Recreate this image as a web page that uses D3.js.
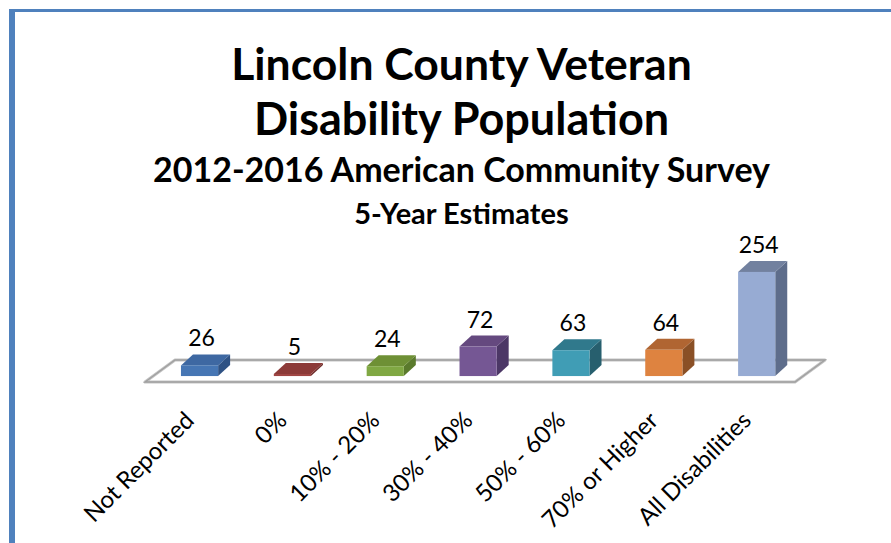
<!DOCTYPE html>
<html>
<head>
<meta charset="utf-8">
<script src="https://cdn.jsdelivr.net/npm/d3@7/dist/d3.min.js"></script>
<style>
  html, body { margin: 0; padding: 0; background: #ffffff; }
  svg { display: block; font-family: Lato, "Open Sans", sans-serif; }
</style>
</head>
<body>
<svg id="chart" width="891" height="543"></svg>
<script>
// Veteran disability counts by service-connected rating
const categories = ["Not Reported", "0%", "10% - 20%", "30% - 40%", "50% - 60%", "70% or Higher", "All Disabilities"];
const values = [26, 5, 24, 72, 63, 64, 254];
const frontColors = ["#4676B4", "#A04543", "#80A843", "#755794", "#409DB5", "#DE8340", "#97ABD3"];
const topColors   = ["#3E68A2", "#8C3A38", "#6E9035", "#65497F", "#30798C", "#B06532", "#72819F"];
const sideColors  = ["#2F5284", "#6E2B29", "#5A7A2C", "#4C3766", "#275F6E", "#8A5026", "#5E6D8B"];
const titleLines = ["Lincoln County Veteran", "Disability Population"];
const subtitle = "2012-2016 American Community Survey";
const subsubtitle = "5-Year Estimates";

const svg = d3.select("#chart");

// frame edge
svg.append("rect").attr("x", 9).attr("y", 9).attr("width", 6).attr("height", 534).attr("fill", "#4F81BD");
svg.append("rect").attr("x", 9).attr("y", 9).attr("width", 882).attr("height", 3).attr("fill", "#4F81BD");

// titles
const cx = 461.5;
svg.append("text").attr("x", cx).attr("y", 80).attr("text-anchor", "middle")
  .attr("font-size", 44.5).attr("font-weight", 700).text(titleLines[0]);
svg.append("text").attr("x", cx).attr("y", 135).attr("text-anchor", "middle")
  .attr("font-size", 45).attr("font-weight", 700).text(titleLines[1]);
svg.append("text").attr("x", cx).attr("y", 182).attr("text-anchor", "middle")
  .attr("font-size", 34).attr("font-weight", 700).text(subtitle);
svg.append("text").attr("x", cx).attr("y", 224).attr("text-anchor", "middle")
  .attr("font-size", 29).attr("font-weight", 700).text(subsubtitle);

// oblique projection of the 3-D plot area
const floorY = 382;                 // front edge of the floor
const depth = { dx: 30, dy: -22 };  // full floor depth
const barZ = 0.27;                  // where the bars' front faces sit
const barDepth = { dx: 12, dy: -11 };

const x = d3.scaleBand().domain(categories).range([145, 795]).paddingInner(0.6).paddingOuter(0.3);
const h = d3.scaleLinear().domain([0, 300]).range([0, 123]);

// floor
const fl = x.range()[0], fr = x.range()[1];
const floorPts = [[fl, floorY], [fr, floorY], [fr + depth.dx, floorY + depth.dy], [fl + depth.dx, floorY + depth.dy]];
svg.append("polygon")
  .attr("points", floorPts.map(p => p.join(",")).join(" "))
  .attr("fill", "#ffffff").attr("stroke", "#C4C4C4").attr("stroke-width", 3).attr("stroke-linejoin", "round");
svg.append("polygon")
  .attr("points", floorPts.map(p => p.join(",")).join(" "))
  .attr("fill", "none").attr("stroke", "#A0A0A0").attr("stroke-width", 1.3);

const bx0 = barZ * depth.dx, by0 = floorY + barZ * depth.dy;

const bars = svg.append("g").selectAll("g").data(categories).join("g");
bars.each(function(c, i) {
  const g = d3.select(this);
  const left = x(c) + bx0, right = left + x.bandwidth();
  const bottom = by0, top = by0 - h(values[i]);
  const ddx = barDepth.dx, ddy = barDepth.dy;
  // side face
  g.append("polygon").attr("fill", sideColors[i])
    .attr("points", [[right, bottom], [right + ddx, bottom + ddy], [right + ddx, top + ddy], [right, top]].map(p => p.join(",")).join(" "));
  // top face
  g.append("polygon").attr("fill", topColors[i])
    .attr("points", [[left, top], [right, top], [right + ddx, top + ddy], [left + ddx, top + ddy]].map(p => p.join(",")).join(" "));
  // front face
  g.append("rect").attr("x", left).attr("y", top).attr("width", x.bandwidth()).attr("height", bottom - top)
    .attr("fill", frontColors[i]);
  // value label
  g.append("text").attr("x", (left + right) / 2 + 2).attr("y", top + ddy - 8)
    .attr("text-anchor", "middle").attr("font-size", 23).attr("fill", "#000").text(values[i]);
});

// category labels, rotated
svg.append("g").selectAll("text").data(categories).join("text")
  .attr("transform", c => `translate(${x(c) + x.bandwidth() / 2 + 4},${floorY + 40}) rotate(-45)`)
  .attr("text-anchor", "end").attr("font-size", 24).attr("fill", "#000")
  .text(c => c);
</script>
</body>
</html>
